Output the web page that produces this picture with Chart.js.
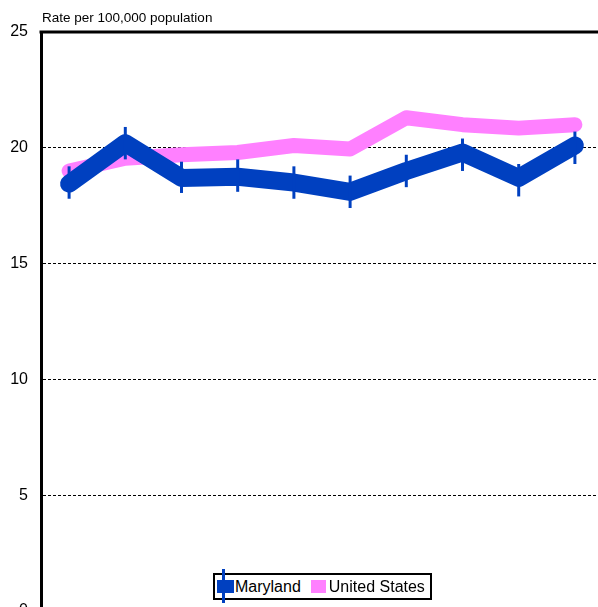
<!DOCTYPE html>
<html>
<head>
<meta charset="utf-8">
<script src="https://cdn.jsdelivr.net/npm/chart.js@4/dist/chart.umd.min.js"></script>
<style>
  html, body { margin: 0; padding: 0; background: #fff; overflow: hidden; }
  #wrap { position: relative; width: 598px; height: 607px; overflow: hidden; }
  #chart { position: absolute; left: 0; top: 0; }
  #legend {
    position: absolute; left: 213px; top: 573px; height: 23px; width: 213px;
    border: 2px solid #000; background: #fff;
    font: 16px "Liberation Sans", Arial, sans-serif; color: #000;
    display: flex; align-items: center; padding: 0 0 0 2px; white-space: nowrap;
  }
  #legend .item { display: flex; align-items: center; margin-right: 10px; position: relative; }
  #legend .item:last-child { margin-right: 0; }
  #legend .box { height: 13px; position: relative; }
  #legend .bar { position: absolute; left: 5px; top: -11px; width: 3px; height: 34px; }
</style>
</head>
<body>
<div id="wrap">
  <canvas id="chart"></canvas>
  <div id="legend"></div>
</div>
<script>
const years = ['1999', '2000', '2001', '2002', '2003', '2004', '2005', '2006', '2007', '2008'];
const marylandRates = [18.45, 20.2, 18.7, 18.75, 18.5, 18.1, 19.0, 19.8, 18.7, 20.1];
const marylandLower = [17.8, 19.5, 18.05, 18.1, 17.8, 17.4, 18.3, 19.0, 17.9, 19.3];
const marylandUpper = [19.2, 20.9, 19.4, 19.5, 19.2, 18.8, 19.7, 20.4, 19.3, 20.7];
const usRates = [19.0, 19.55, 19.7, 19.8, 20.1, 19.95, 21.3, 21.0, 20.85, 21.0];
const yTicks = [0, 5, 10, 15, 20, 25];

const blue = 'rgb(0, 64, 192)';
const pink = 'rgb(255, 128, 255)';
const font = '"Liberation Sans", Arial, sans-serif';

const errorBars = {
  id: 'errorBars',
  afterDatasetsDraw(chart) {
    const { ctx, scales: { x, y } } = chart;
    ctx.save();
    ctx.strokeStyle = blue;
    ctx.lineWidth = 3;
    marylandRates.forEach((v, i) => {
      const px = x.getPixelForValue(i);
      ctx.beginPath();
      ctx.moveTo(px, y.getPixelForValue(marylandLower[i]));
      ctx.lineTo(px, y.getPixelForValue(marylandUpper[i]));
      ctx.stroke();
    });
    ctx.restore();
  }
};

const frame = {
  id: 'frame',
  afterDraw(chart) {
    const { ctx, chartArea: a } = chart;
    ctx.save();
    ctx.strokeStyle = '#000';
    ctx.lineWidth = 3;
    ctx.beginPath();
    ctx.moveTo(a.left - 1.5, a.top);
    ctx.lineTo(a.right, a.top);
    ctx.stroke();
    ctx.fillStyle = '#000';
    ctx.font = '13.5px ' + font;
    ctx.textBaseline = 'alphabetic';
    ctx.fillText('Rate per 100,000 population', a.left + 1, a.top - 10);
    ctx.restore();
  }
};

const canvas = document.getElementById('chart');
canvas.style.width = '620px';
canvas.style.height = '640px';
canvas.width = 620;
canvas.height = 640;

const chart = new Chart(canvas, {
  type: 'line',
  data: {
    labels: years,
    datasets: [{
      label: 'Maryland',
      data: marylandRates,
      borderColor: blue,
      backgroundColor: blue,
      borderWidth: 18,
      borderJoinStyle: 'round',
      borderCapStyle: 'round',
      pointRadius: 0,
      tension: 0
    }, {
      label: 'United States',
      data: usRates,
      borderColor: pink,
      backgroundColor: pink,
      borderWidth: 15,
      borderJoinStyle: 'round',
      borderCapStyle: 'round',
      pointRadius: 0,
      tension: 0
    }]
  },
  options: {
    responsive: false,
    animation: false,
    layout: { padding: { top: 32, right: 17, bottom: 29, left: 0 } },
    scales: {
      x: {
        offset: true,
        grid: { display: false },
        border: { display: false },
        ticks: { display: false },
        afterFit(s) { s.height = 0; }
      },
      y: {
        min: 0,
        max: 25,
        afterBuildTicks(s) { s.ticks = yTicks.map(v => ({ value: v })); },
        afterFit(s) { s.width = 41; },
        grid: {
          drawTicks: false,
          color: (c) => (c.tick.value === 0 || c.tick.value === 25) ? 'rgba(0,0,0,0)' : '#000',
          lineWidth: 1
        },
        border: { display: true, color: '#000', width: 3, dash: [3, 2] },
        ticks: {
          color: '#000',
          padding: 13,
          font: { family: font, size: 16 }
        }
      }
    },
    plugins: {
      legend: { display: false },
      tooltip: { enabled: false }
    }
  },
  plugins: [errorBars, frame]
});

// legend built from the datasets
const legend = document.getElementById('legend');
chart.data.datasets.forEach((ds, i) => {
  const item = document.createElement('div');
  item.className = 'item';
  const box = document.createElement('div');
  box.className = 'box';
  box.style.background = ds.borderColor;
  box.style.width = i === 0 ? '17px' : '15px';
  box.style.marginRight = i === 0 ? '1px' : '3px';
  if (i === 0) {
    const bar = document.createElement('div');
    bar.className = 'bar';
    bar.style.background = blue;
    box.appendChild(bar);
  }
  item.appendChild(box);
  item.appendChild(document.createTextNode(ds.label));
  legend.appendChild(item);
});
</script>
</body>
</html>
